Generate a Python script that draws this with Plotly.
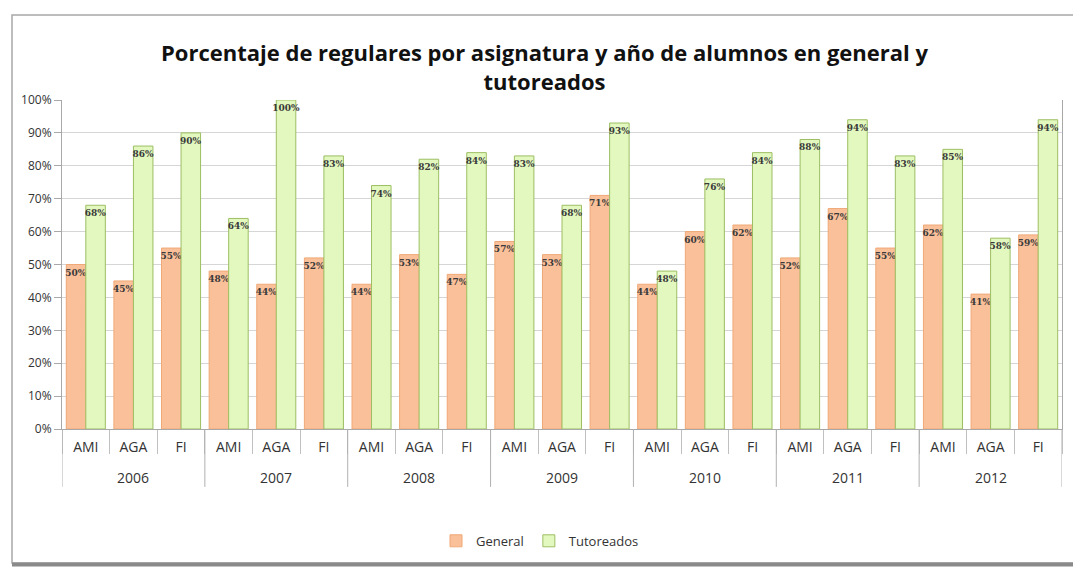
import plotly.graph_objects as go

years = ["2006", "2007", "2008", "2009", "2010", "2011", "2012"]
subjects = ["AMI", "AGA", "FI"]
general = [50, 45, 55, 48, 44, 52, 44, 53, 47, 57, 53, 71, 44, 60, 62, 52, 67, 55, 62, 41, 59]
tutoreados = [68, 86, 90, 64, 100, 83, 74, 82, 84, 83, 68, 93, 48, 76, 84, 88, 94, 83, 85, 58, 94]

keys = [f"{y} {s}" for y in years for s in subjects]
x_subj = [s for _ in years for s in subjects]

label_font = dict(size=9, color="#3a3a3a", family="DejaVu Serif")

fig = go.Figure()
fig.add_trace(go.Bar(
    x=keys, y=[v / 100 for v in general], name="General",
    marker=dict(color="#FAC099", line=dict(color="#EFA877", width=1)),
    text=[f"<b>{v}%</b>" for v in general], textposition="inside", insidetextanchor="end",
    textangle=0, constraintext="none", textfont=label_font,
))
fig.add_trace(go.Bar(
    x=keys, y=[v / 100 for v in tutoreados], name="Tutoreados",
    marker=dict(color="#E2F8BE", line=dict(color="#9DBE63", width=1)),
    text=[f"<b>{v}%</b>" for v in tutoreados], textposition="inside", insidetextanchor="end",
    textangle=0, constraintext="none", textfont=label_font,
))

# year labels and long dividers between year groups
annotations = []
shapes = [
    dict(type="rect", xref="paper", yref="paper", x0=-0.05, x1=1.1, y0=-0.407, y1=1.258,
         line=dict(color="#A8A8A8", width=1.5), fillcolor="rgba(0,0,0,0)", layer="below"),
    dict(type="line", xref="paper", yref="paper", x0=-0.05, x1=1.1, y0=-0.412, y1=-0.412,
         line=dict(color="#8A8A8A", width=4), layer="below"),
]
n = len(subjects)
for gi, yr in enumerate(years):
    annotations.append(dict(text=yr, x=keys[gi * n + n // 2], xref="x", y=-0.148, yref="paper",
                            showarrow=False, xanchor="center", yanchor="middle",
                            font=dict(size=14, color="#333333")))
for gi in range(len(years) + 1):
    shapes.append(dict(type="line", xref="x", yref="paper", x0=gi * n - 0.5, x1=gi * n - 0.5,
                       y0=0, y1=-0.176, line=dict(color="#B0B0B0", width=1)))

fig.update_layout(
    width=1073, height=561,
    margin=dict(l=54, r=19, t=92, b=140),
    paper_bgcolor="white", plot_bgcolor="white",
    barmode="group", bargap=0.18, bargroupgap=0,
    font=dict(family="Open Sans, Calibri, sans-serif", color="#333333"),
    title=dict(
        text="<b>Porcentaje de regulares por asignatura y año de alumnos en general y<br>tutoreados</b>",
        x=0.5, xanchor="center", y=0.905, yanchor="middle",
        font=dict(size=22, color="#111111", family="Open Sans, sans-serif"),
    ),
    legend=dict(orientation="h", x=0.478, xanchor="center", y=-0.34, yanchor="middle",
                font=dict(size=13, color="#333333"), traceorder="normal"),
    showlegend=True,
    shapes=shapes,
    annotations=annotations,
)
fig.update_yaxes(range=[0, 1.0], tickvals=[i / 10 for i in range(11)],
                 ticktext=[f"{i * 10}%" for i in range(11)],
                 showgrid=True, gridcolor="#D6D6D6", gridwidth=1,
                 showline=True, linecolor="#A8A8A8", mirror=True, ticks="outside", tickcolor="#A8A8A8",
                 ticklen=7, tickfont=dict(size=12, color="#333333"), zeroline=False)
fig.update_xaxes(type="category", tickvals=keys, ticktext=x_subj, range=[-0.5, len(keys) - 0.5],
                 showline=True, linecolor="#A8A8A8", tickfont=dict(size=14, color="#333333"),
                 ticks="outside", tickson="boundaries", ticklen=24, tickcolor="#C0C0C0",
                 showgrid=False, ticklabelstandoff=5)

fig.write_html("out.html")
